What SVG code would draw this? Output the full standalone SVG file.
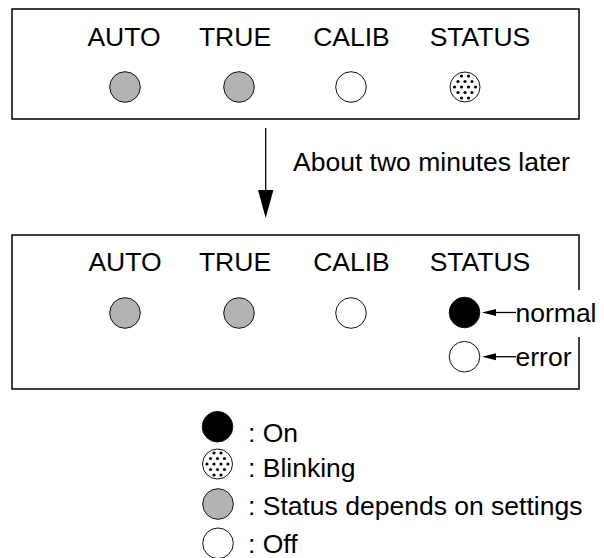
<svg xmlns="http://www.w3.org/2000/svg" xmlns:xlink="http://www.w3.org/1999/xlink" width="604" height="558" viewBox="0 0 604 558">
<style>
text{font-family:"Liberation Sans",Arial,sans-serif;font-size:26.5px;fill:#000}
.lbl{text-anchor:middle}
.box{fill:none;stroke:#000;stroke-width:1.5}
.led{stroke:#111;stroke-width:1}
.gray{fill:#b3b3b3}
.off{fill:#fff}
.on{fill:#000}
.conn{stroke:#000;stroke-width:1.3;fill:none}
</style>
<defs>
<g id="blink">
<circle r="15" fill="#fff" stroke="#111" stroke-width="1"/>
<g fill="#000">
<circle cx="-3.5" cy="-11" r="1.6"/><circle cx="3.5" cy="-11" r="1.6"/>
<circle cx="-7" cy="-5.5" r="1.6"/><circle cx="0" cy="-5.5" r="1.6"/><circle cx="7" cy="-5.5" r="1.6"/>
<circle cx="-10.5" cy="0" r="1.6"/><circle cx="-3.5" cy="0" r="1.6"/><circle cx="3.5" cy="0" r="1.6"/><circle cx="10.5" cy="0" r="1.6"/>
<circle cx="-7" cy="5.5" r="1.6"/><circle cx="0" cy="5.5" r="1.6"/><circle cx="7" cy="5.5" r="1.6"/>
<circle cx="-3.5" cy="11" r="1.6"/><circle cx="3.5" cy="11" r="1.6"/>
</g>
</g>
</defs>
<rect width="604" height="558" fill="#fff"/>

<g id="panel-before">
<rect class="box" x="12" y="9" width="567" height="110"/>
<text class="lbl" x="124" y="46">AUTO</text>
<text class="lbl" x="235" y="46">TRUE</text>
<text class="lbl" x="351.5" y="46">CALIB</text>
<text class="lbl" x="480" y="46">STATUS</text>
<circle class="led gray" cx="125" cy="87" r="15.3"/>
<circle class="led gray" cx="239" cy="87" r="15.3"/>
<circle class="led off" cx="351" cy="87" r="15.3"/>
<use xlink:href="#blink" href="#blink" x="465" y="87"/>
</g>

<g id="panel-after">
<path class="box" d="M579 290 V235 H12 V389 H579 V337"/>
<text class="lbl" x="125" y="271">AUTO</text>
<text class="lbl" x="235" y="271">TRUE</text>
<text class="lbl" x="351.5" y="271">CALIB</text>
<text class="lbl" x="480" y="271">STATUS</text>
<circle class="led gray" cx="125" cy="313" r="15.3"/>
<circle class="led gray" cx="239" cy="313" r="15.3"/>
<circle class="led off" cx="351" cy="313" r="15.3"/>
<circle class="led on" cx="464.5" cy="312.5" r="15.3"/>
<circle class="led off" cx="464.5" cy="356.7" r="15.3"/>
<text x="515.5" y="322">normal</text>
<text x="515.5" y="366">error</text>
</g>

<g id="legend">
<circle class="led on" cx="217.5" cy="426.7" r="15.3"/>
<text x="248" y="442">: On</text>
<use xlink:href="#blink" href="#blink" x="217.5" y="464"/>
<text x="248" y="476.5">: Blinking</text>
<circle class="led gray" cx="218" cy="504" r="15.3"/>
<text x="248" y="515">: Status depends on settings</text>
<circle class="led off" cx="218" cy="543.3" r="15.3"/>
<text x="248" y="553">: Off</text>
</g>

<g id="connectors">
<line class="conn" x1="265.7" y1="128" x2="265.7" y2="192"/>
<polygon points="265.7,218 258,190 273.4,190" fill="#000"/>
<text x="293" y="171">About two minutes later</text>
<line class="conn" x1="516" y1="312.5" x2="492" y2="312.5"/>
<polygon points="482,312.5 496,309 496,316" fill="#000"/>
<line class="conn" x1="516" y1="356.7" x2="492" y2="356.7"/>
<polygon points="482,356.7 496,353.2 496,360.2" fill="#000"/>
</g>
</svg>
